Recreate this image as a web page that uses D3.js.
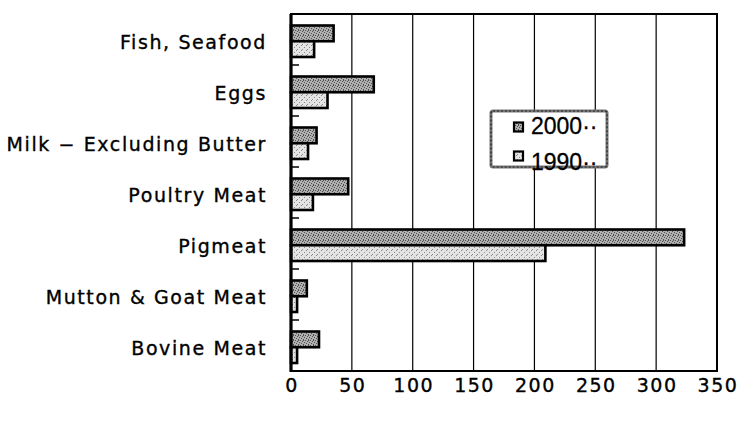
<!DOCTYPE html>
<html>
<head>
<meta charset="utf-8">
<script src="https://cdn.jsdelivr.net/npm/d3@7"></script>
<style>
  html, body { margin: 0; padding: 0; background: #fff; }
  svg { display: block; }
  text { font-family: "DejaVu Sans", sans-serif; fill: #000; }
</style>
</head>
<body>
<svg id="chart" width="739" height="423"></svg>
<script>
const categories = ["Fish, Seafood", "Eggs", "Milk − Excluding Butter", "Poultry Meat", "Pigmeat", "Mutton & Goat Meat", "Bovine Meat"];
const seriesNames = ["2000", "1990"];
const values2000 = [35, 68, 21, 47, 323, 13, 23];
const values1990 = [19, 30, 14, 18, 209, 5, 5];
const xTicks = [0, 50, 100, 150, 200, 250, 300, 350];
const legendLabels = ["2000··", "1990··"];

(function () {
const svg = d3.select("#chart");
const pLeft = 291, pRight = 717, pTop = 14, pBottom = 371;

const defs = svg.append("defs");
function ditherPattern(id, bg, fg, pts) {
  const p = defs.append("pattern").attr("id", id).attr("patternUnits", "userSpaceOnUse")
    .attr("width", 5).attr("height", 5);
  p.append("rect").attr("width", 5).attr("height", 5).attr("fill", bg);
  pts.forEach(([px, py]) => p.append("rect").attr("x", px).attr("y", py).attr("width", 1).attr("height", 1).attr("fill", fg));
}
ditherPattern("pat2000", "#b0b0b0", "#505050", [[0,0],[2,1],[4,2],[1,3],[3,4],[3,0]]);
ditherPattern("pat1990", "#e4e4e4", "#8a8a8a", [[1,0],[4,2],[2,4]]);
const fills = { "2000": "url(#pat2000)", "1990": "url(#pat1990)" };

const x = d3.scaleLinear().domain([0, 350]).range([pLeft, pRight]);
const y = d3.scaleBand().domain(categories).range([pTop, pBottom]).padding(0);
const ySub = d3.scaleBand().domain(seriesNames).range([11.5, 43]).padding(0);

// gridlines
svg.append("g").selectAll("line").data(xTicks.filter(t => t > 0 && t < 350)).join("line")
  .attr("x1", d => x(d)).attr("x2", d => x(d))
  .attr("y1", pTop).attr("y2", pBottom)
  .attr("stroke", "#000").attr("stroke-width", 1.2);

// bars
const rows = categories.map((c, i) => ({ cat: c, "2000": values2000[i], "1990": values1990[i] }));
const g = svg.append("g");
rows.forEach(r => {
  seriesNames.forEach(s => {
    g.append("rect")
      .attr("x", x(0))
      .attr("y", y(r.cat) + ySub(s))
      .attr("width", x(r[s]) - x(0))
      .attr("height", ySub.bandwidth())
      .attr("fill", fills[s])
      .attr("stroke", "#000")
      .attr("stroke-width", 2.6);
  });
});

// plot frame
svg.append("rect").attr("x", pLeft).attr("y", pTop).attr("width", pRight - pLeft).attr("height", pBottom - pTop)
  .attr("fill", "none").attr("stroke", "#000").attr("stroke-width", 2);
svg.append("line").attr("x1", pLeft).attr("x2", pLeft).attr("y1", pTop).attr("y2", pBottom + 1)
  .attr("stroke", "#000").attr("stroke-width", 3.2);

// y ticks (inward)
svg.append("g").selectAll("line").data(categories.slice(1)).join("line")
  .attr("x1", pLeft).attr("x2", pLeft + 8)
  .attr("y1", d => y(d)).attr("y2", d => y(d))
  .attr("stroke", "#000").attr("stroke-width", 1.5);

// y labels
svg.append("g").selectAll("text").data(categories).join("text")
  .attr("x", 267).attr("y", d => y(d) + y.bandwidth() / 2 + 2)
  .attr("text-anchor", "end").attr("dominant-baseline", "central")
  .style("font-size", "19px").style("letter-spacing", "1.6px")
  .style("stroke", "#000").style("stroke-width", "0.35px")
  .text(d => d);

// x labels
svg.append("g").selectAll("text").data(xTicks).join("text")
  .attr("x", d => x(d) + 1).attr("y", 385)
  .attr("text-anchor", "middle").attr("dominant-baseline", "central")
  .style("font-size", "19px").style("letter-spacing", "1.5px")
  .style("stroke", "#000").style("stroke-width", "0.35px")
  .text(d => d);

// legend
const lg = svg.append("g");
lg.append("rect").attr("x", 491).attr("y", 111).attr("width", 116).attr("height", 56)
  .attr("fill", "#fff").attr("stroke", "#777").attr("stroke-width", 3).attr("rx", 2);
lg.append("rect").attr("x", 491).attr("y", 111).attr("width", 116).attr("height", 56)
  .attr("fill", "none").attr("stroke", "#222").attr("stroke-width", 1.2).attr("stroke-dasharray", "2,2").attr("rx", 2);
const swC = [127, 156], txB = [134, 170];
seriesNames.forEach((s, i) => {
  lg.append("rect").attr("x", 514).attr("y", swC[i] - 4.5).attr("width", 9).attr("height", 9)
    .attr("fill", fills[s]).attr("stroke", "#000").attr("stroke-width", 2.2);
  lg.append("text").attr("x", 531).attr("y", txB[i])
    .style("font-family", "'Liberation Sans', Arial, sans-serif")
    .style("font-size", "23px").style("stroke", "#000").style("stroke-width", "0.3px")
    .text(legendLabels[i]);
});
})();
</script>
</body>
</html>
